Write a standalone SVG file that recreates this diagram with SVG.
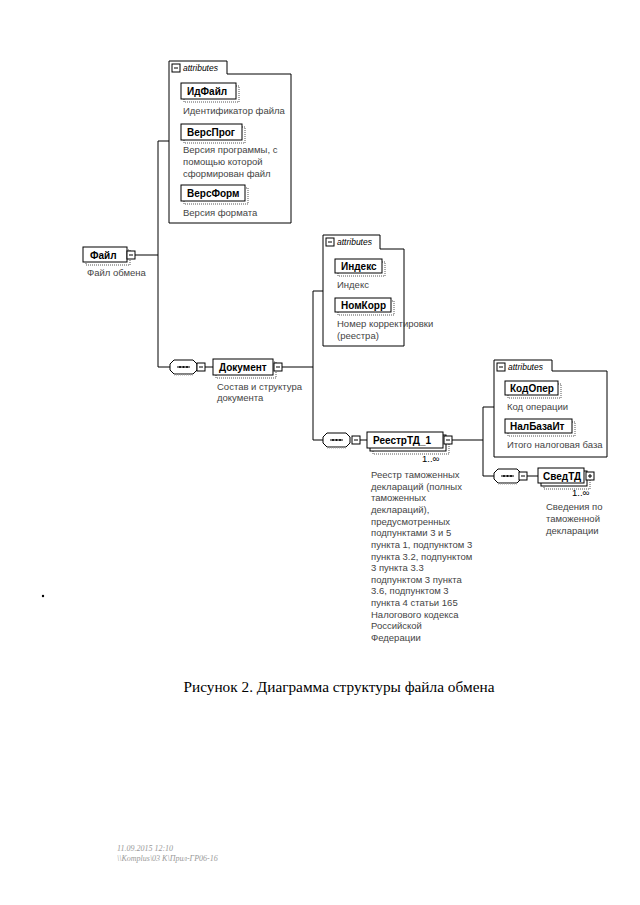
<svg xmlns="http://www.w3.org/2000/svg" width="640" height="905" viewBox="0 0 640 905">
<style>
.bg{fill:#fff}
.box{fill:#fff;stroke:#000;stroke-width:1}
.sh{fill:none;stroke:#aaa;stroke-width:2;stroke-dasharray:1 1}
.stk{fill:#fff;stroke:#000;stroke-width:1}
.ln{fill:none;stroke:#000;stroke-width:1}
.grp{fill:#fff;stroke:#000;stroke-width:1}
.d{font-family:"Liberation Sans",Arial,sans-serif;font-size:9.5px;fill:#444}
.n{font-family:"Liberation Sans",Arial,sans-serif;font-size:10px;font-weight:bold;fill:#000}
.a{font-family:"Liberation Sans",Arial,sans-serif;font-size:8.5px;font-style:italic;fill:#000}
.m{font-family:"Liberation Sans",Arial,sans-serif;font-size:9.5px;fill:#000}
.cap{font-family:"Liberation Serif","Times New Roman",serif;font-size:15.3px;fill:#000}
.ft{font-family:"Liberation Serif","Times New Roman",serif;font-size:8px;font-style:italic;fill:#999}
</style>
<defs>
<g id="minus"><rect x="0" y="0" width="8" height="8" fill="#fff" stroke="#000"/><path d="M2,4H6" stroke="#000"/></g>
<g id="plus"><rect x="0" y="0" width="8" height="8" fill="#fff" stroke="#000"/><path d="M2,4H6M4,2V6" stroke="#000"/></g>
<g id="seq"><path d="M4,0H23L27,4V10L23,14H4L0,10V4Z" fill="#fff" stroke="#000"/><path d="M4,15H23" stroke="#aaa" stroke-dasharray="1 1"/><path d="M7,7H20" stroke="#000"/><circle cx="10" cy="7" r="1" fill="#000"/><circle cx="13.5" cy="7" r="1" fill="#000"/><circle cx="17" cy="7" r="1" fill="#000"/></g>
</defs>
<rect class="bg" x="0" y="0" width="640" height="905"/>

<g id="connectors">
<path class="ln" d="M135,255H158M158,141V367M158,141H169M158,367H170"/>
<path class="ln" d="M205,367H213"/>
<path class="ln" d="M282,367H313M313,291V440M313,291H323M313,440H323"/>
<path class="ln" d="M360,440H367"/>
<path class="ln" d="M452,440H483M483,407V476M483,407H494M483,476H494"/>
<path class="ln" d="M526,476H538"/>
</g>

<g id="file">
<rect class="sh" x="86" y="250" width="44" height="15"/>
<rect class="box" x="83" y="247" width="44" height="15"/>
<text class="n" x="90" y="258.5">Файл</text>
<use href="#minus" x="127" y="251"/>
<text class="d" x="87" y="276">Файл обмена</text>
</g>

<g id="attrs1">
<path class="grp" d="M169,223V61H227V74H291V223Z"/>
<use href="#minus" x="172" y="64"/>
<text class="a" x="183" y="71">attributes</text>
</g>
<g id="idfile">
<rect class="sh" x="184" y="86" width="55" height="16"/>
<rect class="box" x="181" y="83" width="55" height="16"/>
<text class="n" x="187" y="95">ИдФайл</text>
<text class="d" x="183" y="114">Идентификатор файла</text>
</g>
<g id="versprog">
<rect class="sh" x="184" y="127" width="61" height="16"/>
<rect class="box" x="181" y="124" width="61" height="16"/>
<text class="n" x="187" y="136">ВерсПрог</text>
<text class="d" x="183" y="153">Версия программы, с</text>
<text class="d" x="183" y="165">помощью которой</text>
<text class="d" x="183" y="177">сформирован файл</text>
</g>
<g id="versform">
<rect class="sh" x="184" y="188" width="64" height="16"/>
<rect class="box" x="181" y="185" width="64" height="16"/>
<text class="n" x="187" y="197">ВерсФорм</text>
<text class="d" x="183" y="216">Версия формата</text>
</g>

<g id="seq1"><use href="#seq" x="170" y="360"/><use href="#minus" x="197" y="363"/></g>

<g id="document">
<rect class="sh" x="216" y="362" width="60" height="16"/>
<rect class="box" x="213" y="359" width="60" height="16"/>
<text class="n" x="219" y="371">Документ</text>
<use href="#minus" x="274" y="363"/>
<text class="d" x="217" y="390">Состав и структура</text>
<text class="d" x="217" y="401">документа</text>
</g>

<g id="attrs2">
<path class="grp" d="M323,346V235H380V249H404V346Z"/>
<use href="#minus" x="326" y="238"/>
<text class="a" x="337" y="245">attributes</text>
</g>
<g id="index">
<rect class="sh" x="338" y="262" width="47" height="14"/>
<rect class="box" x="335" y="259" width="47" height="14"/>
<text class="n" x="341" y="270">Индекс</text>
<text class="d" x="337" y="288">Индекс</text>
</g>
<g id="nomkorr">
<rect class="sh" x="338" y="301" width="56" height="14"/>
<rect class="box" x="335" y="298" width="56" height="14"/>
<text class="n" x="341" y="309">НомКорр</text>
<text class="d" x="337" y="327">Номер корректировки</text>
<text class="d" x="337" y="339">(реестра)</text>
</g>

<g id="seq2"><use href="#seq" x="323" y="433"/><use href="#minus" x="352" y="436"/></g>

<g id="reestr">
<rect class="sh" x="373" y="438" width="76" height="16"/>
<rect class="stk" x="370" y="435" width="76" height="16"/>
<rect class="box" x="367" y="432" width="76" height="16"/>
<text class="n" x="373" y="444">РеестрТД_1</text>
<use href="#minus" x="444" y="436"/>
<text class="m" x="422" y="462">1..∞</text>
<text class="d" x="371" y="478">Реестр таможенных</text>
<text class="d" x="371" y="489.6">деклараций (полных</text>
<text class="d" x="371" y="501.3">таможенных</text>
<text class="d" x="371" y="512.9">деклараций),</text>
<text class="d" x="371" y="524.6">предусмотренных</text>
<text class="d" x="371" y="536.2">подпунктами 3 и 5</text>
<text class="d" x="371" y="547.8">пункта 1, подпунктом 3</text>
<text class="d" x="371" y="559.5">пункта 3.2, подпунктом</text>
<text class="d" x="371" y="571.1">3 пункта 3.3</text>
<text class="d" x="371" y="582.8">подпунктом 3 пункта</text>
<text class="d" x="371" y="594.4">3.6, подпунктом 3</text>
<text class="d" x="371" y="606">пункта 4 статьи 165</text>
<text class="d" x="371" y="617.7">Налогового кодекса</text>
<text class="d" x="371" y="629.3">Российской</text>
<text class="d" x="371" y="641">Федерации</text>
</g>

<g id="attrs3">
<path class="grp" d="M494,457V360H552V371H607V457Z"/>
<use href="#minus" x="497" y="363"/>
<text class="a" x="508" y="370">attributes</text>
</g>
<g id="kodoper">
<rect class="sh" x="508" y="384" width="53" height="14"/>
<rect class="box" x="505" y="381" width="53" height="14"/>
<text class="n" x="510" y="392">КодОпер</text>
<text class="d" x="507" y="410">Код операции</text>
</g>
<g id="nalbaza">
<rect class="sh" x="508" y="422" width="67" height="14"/>
<rect class="box" x="505" y="419" width="67" height="14"/>
<text class="n" x="510" y="430">НалБазаИт</text>
<text class="d" x="507" y="448">Итого налоговая база</text>
</g>

<g id="seq3"><use href="#seq" x="494" y="469"/><use href="#minus" x="519" y="472"/></g>

<g id="svedtd">
<rect class="sh" x="544" y="474" width="46" height="15"/>
<rect class="stk" x="541" y="471" width="46" height="15"/>
<rect class="box" x="538" y="468" width="46" height="15"/>
<text class="n" x="543" y="479.5">СведТД</text>
<use href="#plus" x="586" y="472"/>
<text class="m" x="572" y="496">1..∞</text>
<text class="d" x="546" y="510">Сведения по</text>
<text class="d" x="546" y="522">таможенной</text>
<text class="d" x="546" y="534">декларации</text>
</g>

<circle cx="43" cy="596" r="1.2" fill="#000"/>

<text class="cap" x="339" y="692" text-anchor="middle">Рисунок 2. Диаграмма структуры файла обмена</text>
<text class="ft" x="117" y="851">11.09.2015 12:10</text>
<text class="ft" x="117" y="861">\\Komplus\03 К\Прил-ГР06-16</text>
</svg>
